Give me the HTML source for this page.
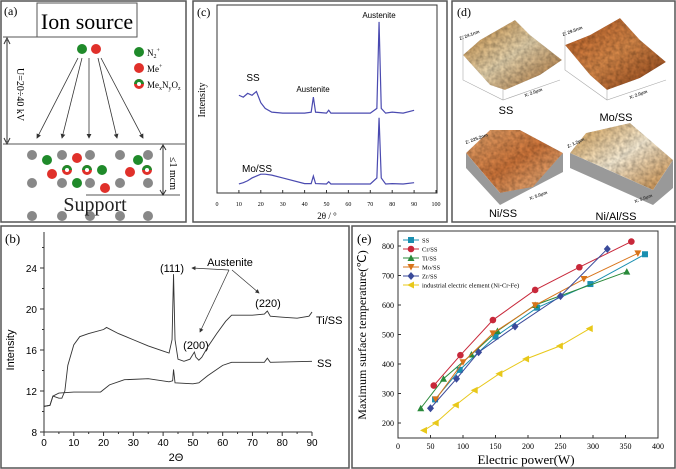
<!DOCTYPE html>
<html><head><meta charset="utf-8"><style>
html,body{margin:0;padding:0;background:#fff;}
svg{display:block;}
.serif{font-family:"Liberation Serif",serif;}
.sans{font-family:"Liberation Sans",sans-serif;}
</style></head>
<body>
<svg id="fig" width="676" height="469" viewBox="0 0 676 469" xmlns="http://www.w3.org/2000/svg">
<defs>
<marker id="arr" markerWidth="6" markerHeight="6" refX="5" refY="3" orient="auto"><path d="M0,0 L6,3 L0,6 z" fill="#333"/></marker>
<linearGradient id="gSS" x1="0" y1="0" x2="1" y2="1"><stop offset="0" stop-color="#c98a3a"/><stop offset="0.5" stop-color="#e8d6b0"/><stop offset="1" stop-color="#a5672a"/></linearGradient>
<linearGradient id="gMo" x1="0" y1="0" x2="1" y2="1"><stop offset="0" stop-color="#b85a22"/><stop offset="0.5" stop-color="#d98a4a"/><stop offset="1" stop-color="#8a3e14"/></linearGradient>
<linearGradient id="gNi" x1="0" y1="0" x2="1" y2="1"><stop offset="0" stop-color="#e8a870"/><stop offset="0.5" stop-color="#d0763a"/><stop offset="1" stop-color="#f0c090"/></linearGradient>
<linearGradient id="gNiAl" x1="0" y1="0" x2="1" y2="1"><stop offset="0" stop-color="#d9a050"/><stop offset="0.5" stop-color="#fbf0d8"/><stop offset="1" stop-color="#c88840"/></linearGradient>
<filter id="rough" x="0" y="0" width="1" height="1">
<feTurbulence type="fractalNoise" baseFrequency="0.25" numOctaves="2" seed="3" result="n"/>
<feColorMatrix in="n" type="matrix" values="0 0 0 0 0.5  0 0 0 0 0.5  0 0 0 0 0.5  1.6 0 0 0 -0.3" result="m"/>
<feBlend in="SourceGraphic" in2="m" mode="multiply" result="b"/>
<feComposite in="b" in2="SourceAlpha" operator="in"/>
</filter>
</defs>

<rect x="1" y="1" width="185" height="221" fill="none" stroke="#555" stroke-width="1.5"/>
<rect x="193" y="1" width="254" height="221" fill="none" stroke="#555" stroke-width="1.5"/>
<rect x="452" y="1" width="223" height="221" fill="none" stroke="#555" stroke-width="1.5"/>
<rect x="1" y="226" width="348" height="242" fill="none" stroke="#555" stroke-width="1.5"/>
<rect x="352" y="226" width="323" height="242" fill="none" stroke="#555" stroke-width="1.5"/>

<g>
<text x="4" y="15" class="serif" font-size="12">(a)</text>
<rect x="37" y="3" width="100" height="34" fill="#fff" stroke="#555"/>
<text x="87" y="29" text-anchor="middle" class="serif" font-size="22">Ion source</text>
<line x1="3" y1="37" x2="37" y2="37" stroke="#555"/>
<line x1="7" y1="40" x2="7" y2="142" stroke="#333"/>
<path d="M4,44 L7,38 L10,44 M4,138 L7,144 L10,138" fill="none" stroke="#333"/>
<text transform="translate(17,68) rotate(90)" class="serif" font-size="10">U=20÷40 kV</text>
<line x1="3" y1="144" x2="185" y2="144" stroke="#555"/>
<line x1="86" y1="195" x2="180" y2="195" stroke="#555"/>
<line x1="163" y1="146" x2="163" y2="194" stroke="#333"/>
<path d="M160,150 L163,145 L166,150 M160,190 L163,195 L166,190" fill="none" stroke="#333"/>
<text transform="translate(170,157) rotate(90)" class="serif" font-size="10">≤1 mcm</text>
<circle cx="82" cy="49" r="5" fill="#1f8a2a"/><circle cx="96" cy="49" r="5" fill="#e0302a"/>
<g stroke="#333" stroke-width="0.8" marker-end="url(#arr)">
<line x1="78" y1="58" x2="37" y2="138"/><line x1="82" y1="58" x2="62" y2="138"/><line x1="89" y1="58" x2="89" y2="138"/><line x1="98" y1="58" x2="117" y2="138"/><line x1="101" y1="58" x2="143" y2="138"/>
</g>
<circle cx="139" cy="52" r="5" fill="#1f8a2a"/><text x="147" y="56" class="serif" font-size="9">N<tspan font-size="6" dy="2">2</tspan><tspan font-size="6" dy="-6">+</tspan></text>
<circle cx="139" cy="68" r="5" fill="#e0302a"/><text x="147" y="72" class="serif" font-size="9">Me<tspan font-size="6" dy="-4">+</tspan></text>
<circle cx="139" cy="84" r="5" fill="#e0302a"/><path d="M134,84 A5,5 0 0,1 144,84 z" fill="#1f8a2a"/><circle cx="139" cy="84" r="2" fill="#fff"/>
<text x="147" y="88" class="serif" font-size="9">Me<tspan font-size="6" dy="2">x</tspan><tspan dy="-2">N</tspan><tspan font-size="6" dy="2">y</tspan><tspan dy="-2">O</tspan><tspan font-size="6" dy="2">z</tspan></text>
<g fill="#888">
<circle cx="32" cy="155" r="5"/><circle cx="62" cy="155" r="5"/><circle cx="90" cy="155" r="5"/><circle cx="120" cy="155" r="5"/><circle cx="148" cy="155" r="5"/>
<circle cx="32" cy="183" r="5"/><circle cx="62" cy="183" r="5"/><circle cx="90" cy="183" r="5"/><circle cx="120" cy="183" r="5"/><circle cx="148" cy="183" r="5"/>
<circle cx="32" cy="216" r="5"/><circle cx="62" cy="216" r="5"/><circle cx="90" cy="216" r="5"/><circle cx="120" cy="216" r="5"/><circle cx="148" cy="216" r="5"/>
</g>
<g fill="#1f8a2a"><circle cx="47" cy="160" r="5"/><circle cx="138" cy="160" r="5"/><circle cx="102" cy="170" r="5"/><circle cx="77" cy="183" r="5"/></g>
<g fill="#e0302a"><circle cx="77" cy="158" r="5"/><circle cx="52" cy="174" r="5"/><circle cx="130" cy="172" r="5"/><circle cx="105" cy="188" r="5"/></g>
<g><circle cx="67" cy="170" r="5" fill="#e0302a"/><path d="M62,170 A5,5 0 0,1 72,170 z" fill="#1f8a2a"/><circle cx="67" cy="170" r="2" fill="#fff"/>
<circle cx="87" cy="170" r="5" fill="#e0302a"/><path d="M82,170 A5,5 0 0,1 92,170 z" fill="#1f8a2a"/><circle cx="87" cy="170" r="2" fill="#fff"/>
<circle cx="147" cy="170" r="5" fill="#e0302a"/><path d="M142,170 A5,5 0 0,1 152,170 z" fill="#1f8a2a"/><circle cx="147" cy="170" r="2" fill="#fff"/></g>
<text x="95" y="211" text-anchor="middle" class="serif" font-size="20" fill="#222">Support</text>
</g>

<g>
<text x="457" y="16" class="serif" font-size="12">(d)</text>
<g stroke="#aaa" stroke-width="0.6" fill="none">
<path d="M463,35 L463,80 L503,100 L560,80 M503,100 L503,60"/>
<path d="M565,30 L565,70 L607,100 L666,80 M607,100 L607,60"/>
</g>
<polygon points="463,55 480,40 515,20 530,35 562,60 540,75 505,90 490,85" fill="url(#gSS)" filter="url(#rough)"/>
<polygon points="565,45 590,35 620,18 640,40 666,62 640,78 607,90 590,75" fill="url(#gMo)" filter="url(#rough)"/>
<polygon points="466,153 466,168 500,205 563,172 563,153 500,193" fill="#999"/>
<polygon points="466,153 490,130 520,130 563,153 533,187 500,193" fill="url(#gNi)" filter="url(#rough)"/>
<polygon points="570,153 570,168 653,205 673,188 673,160 653,190" fill="#999"/>
<polygon points="570,153 586,133 630,123 673,160 653,190" fill="url(#gNiAl)" filter="url(#rough)"/>
<g class="sans" font-size="4.5" font-weight="bold" fill="#333">
<text transform="translate(460,40) rotate(-20)">Z: 24.1nm</text>
<text transform="translate(563,36) rotate(-20)">Z: 29.5nm</text>
<text transform="translate(466,144) rotate(-20)">Z: 225.2nm</text>
<text transform="translate(568,148) rotate(-25)">Z: 1.2μm</text>
<text transform="translate(525,97) rotate(-20)">X: 2.0μm</text>
<text transform="translate(630,99) rotate(-20)">X: 2.0μm</text>
<text transform="translate(530,200) rotate(-20)">X: 5.0μm</text>
<text transform="translate(635,203) rotate(-20)">X: 5.0μm</text>
</g>
<g class="sans" font-size="11" text-anchor="middle">
<text x="506" y="114">SS</text><text x="616" y="121">Mo/SS</text><text x="503" y="217">Ni/SS</text><text x="616" y="220">Ni/Al/SS</text>
</g>
</g>

<g id="pc">
<text x="197" y="16" class="serif" font-size="12">(c)</text>
<rect x="217" y="5" width="220" height="188" fill="none" stroke="#333"/>
<text transform="translate(205,100) rotate(-90)" text-anchor="middle" class="serif" font-size="10">Intensity</text>
<text x="327" y="219" text-anchor="middle" class="serif" font-size="9">2θ / °</text>
<text x="253" y="81" text-anchor="middle" class="sans" font-size="10">SS</text>
<text x="313" y="92" text-anchor="middle" class="sans" font-size="8">Austenite</text>
<text x="379" y="18" text-anchor="middle" class="sans" font-size="8">Austenite</text>
<text x="257" y="172" text-anchor="middle" class="sans" font-size="10">Mo/SS</text>
</g>

<g id="pb">
<text x="5" y="243" class="serif" font-size="13">(b)</text>
<text transform="translate(14,350) rotate(-90)" text-anchor="middle" class="sans" font-size="11">Intensity</text>
<text x="176" y="461" text-anchor="middle" class="sans" font-size="11">2Θ</text>
<text x="172" y="272" text-anchor="middle" class="sans" font-size="11">(111)</text>
<text x="230" y="266" text-anchor="middle" class="sans" font-size="11">Austenite</text>
<text x="196" y="349" text-anchor="middle" class="sans" font-size="11">(200)</text>
<text x="268" y="307" text-anchor="middle" class="sans" font-size="11">(220)</text>
<text x="316" y="324" class="sans" font-size="11">Ti/SS</text>
<text x="317" y="367" class="sans" font-size="11">SS</text>
<g stroke="#333" stroke-width="0.7" marker-end="url(#arr)">
<line x1="229" y1="270" x2="192" y2="268"/><line x1="229" y1="270" x2="200" y2="332"/><line x1="232" y1="270" x2="259" y2="293"/>
</g>
</g>

<g id="pe">
<text x="357" y="243" class="serif" font-size="13">(e)</text>
<rect x="398" y="231" width="260" height="207" fill="none" stroke="#333"/>
<text transform="translate(366,335) rotate(-90)" text-anchor="middle" class="serif" font-size="12">Maximum surface temperature(℃)</text>
<text x="526" y="464" text-anchor="middle" class="serif" font-size="13">Electric power(W)</text>
</g>
</svg>
<script>
var NS="http://www.w3.org/2000/svg";
var bX=[0,2,3,5,6,7,8,10,12,15,20,21,25,30,35,40,42,43,43.5,44,45,47,49,50.5,51,52,53,55,58,61,63,70,74,75,76,80,85,89,90];
var bTi=[10.5,10.6,11.5,11.3,11.3,12,14.5,16.5,17.3,17.6,18.0,18.2,17.6,17,16.4,15.9,15.7,17,23.4,17,15.1,14.9,15.1,15.8,15.3,15,15.3,16.3,17.6,18.8,19.4,19.4,19.5,19.8,19.3,19.2,19.1,19.3,19.7];
var bSSx=[0,2,3,5,10,15,19,22,27,35,42,43.2,43.5,44,50,52,55,60,63,74,75,76,90];
var bSS=[10.5,10.6,11.5,11.8,11.9,11.9,11.9,12.6,13.1,13.2,12.9,13,14.1,12.8,12.7,12.8,13.5,14.5,14.8,14.8,15.2,14.8,14.9];
var bXTicks=[0,10,20,30,40,50,60,70,80,90];
var bYTicks=[8,12,16,20,24];
var cX=[10,12,14,16,18,20,22,25,30,40,43,44,45,50,51,52,60,70,73,74,75,77,80,85,90];
var cSS=[52,51,53,52,54,48,45,43,42.5,42.5,43,51,43,42.5,44,42.5,42.5,42.5,45,91,45,42.5,43,42.5,44];
var cMo=[4.8,5.5,6.5,8,9,10,10,9.5,8,5,5,9,5,4.8,6,4.8,4.8,4.8,8,40,8,4.8,5,4.8,5.5];
var cXTicks=[0,10,20,30,40,50,60,70,80,90,100];
var eSeriesNames=["SS","Cr/SS","Ti/SS","Mo/SS","Zr/SS","industrial electric element (Ni-Cr-Fe)"];
var eSSx=[57,95,150,214,296,380], eSSy=[280,380,493,591,671,772];
var eCrx=[55,96,146,211,279,359], eCry=[327,430,549,651,728,815];
var eTix=[35,70,113,153,211,352], eTiy=[250,350,432,512,600,713];
var eMox=[58,100,146,211,286,369], eMoy=[280,406,504,599,688,775];
var eZrx=[50,90,124,180,250,322], eZry=[250,350,440,527,630,790];
var eInx=[40,58,89,118,156,197,249,295], eIny=[175,200,261,311,367,417,461,520];
var eXTicks=[0,50,100,150,200,250,300,350,400];
var eYTicks=[200,300,400,500,600,700,800];

function mk(tag,attrs,parent){var e=document.createElementNS(NS,tag);for(var k in attrs)e.setAttribute(k,attrs[k]);parent.appendChild(e);return e;}

(function(){
var g=document.getElementById('pb');
function sx(v){return 44+v*(312-44)/90;}
function sy(v){return 432-(v-8)*(164/16);}
mk('path',{d:'M44,232 L44,432 L312,432',fill:'none',stroke:'#333'},g);
bXTicks.forEach(function(t){mk('line',{x1:sx(t),y1:432,x2:sx(t),y2:436,stroke:'#333'},g);
var tx=mk('text',{x:sx(t),y:446,'text-anchor':'middle','font-size':'10','class':'sans'},g);tx.textContent=t;
if(t<90)mk('line',{x1:sx(t+5),y1:432,x2:sx(t+5),y2:434,stroke:'#333'},g);});
bYTicks.forEach(function(t){mk('line',{x1:40,y1:sy(t),x2:44,y2:sy(t),stroke:'#333'},g);
var tx=mk('text',{x:37,y:sy(t)+4,'text-anchor':'end','font-size':'10','class':'sans'},g);tx.textContent=t;
mk('line',{x1:42,y1:sy(t+2),x2:44,y2:sy(t+2),stroke:'#333'},g);});
mk('line',{x1:42,y1:sy(26),x2:44,y2:sy(26),stroke:'#333'},g);
var p1=mk('polyline',{points:bX.map(function(x,i){return sx(x)+','+sy(bTi[i]);}).join(' '),fill:'none',stroke:'#333','stroke-width':'0.9'},g);


var p2=mk('polyline',{points:bSSx.map(function(x,i){return sx(x)+','+sy(bSS[i]);}).join(' '),fill:'none',stroke:'#333','stroke-width':'0.9'},g);


})();

(function(){
var g=document.getElementById('pc');
function sx(v){return 217+v*2.19;}
function sy(v){return 193-v*1.88;}
cXTicks.forEach(function(t){mk('line',{x1:sx(t),y1:193,x2:sx(t),y2:190,stroke:'#333'},g);
var tx=mk('text',{x:sx(t),y:206,'text-anchor':'middle','font-size':'6','class':'serif'},g);tx.textContent=t;});
var p1=mk('polyline',{points:cX.map(function(x,i){return sx(x)+','+sy(cSS[i]);}).join(' '),fill:'none',stroke:'#4a4ab0','stroke-width':'1.2'},g);


var p2=mk('polyline',{points:cX.map(function(x,i){return sx(x)+','+sy(cMo[i]);}).join(' '),fill:'none',stroke:'#4a4ab0','stroke-width':'1.2'},g);


})();

(function(){
var g=document.getElementById('pe');
function sx(v){return 398+v*0.65;}
function sy(v){return 423-(v-200)*(177/600);}
eXTicks.forEach(function(t){mk('line',{x1:sx(t),y1:438,x2:sx(t),y2:435,stroke:'#333'},g);
var tx=mk('text',{x:sx(t),y:449,'text-anchor':'middle','font-size':'8','class':'serif'},g);tx.textContent=t;});
eYTicks.forEach(function(t){mk('line',{x1:398,y1:sy(t),x2:401,y2:sy(t),stroke:'#333'},g);
var tx=mk('text',{x:394,y:sy(t)+3,'text-anchor':'end','font-size':'8','class':'serif'},g);tx.textContent=t;});
var series=[[eSSx,eSSy,'#1a8fb0','sq'],[eCrx,eCry,'#c8283a','ci'],[eTix,eTiy,'#2a8a3a','tu'],[eMox,eMoy,'#d8741a','td'],[eZrx,eZry,'#3a4a9a','di'],[eInx,eIny,'#e8c81a','tl']];
function marker(t,x,y,c,par){
if(t=='sq')return mk('rect',{x:x-3,y:y-3,width:6,height:6,fill:c},par);
if(t=='ci')return mk('circle',{cx:x,cy:y,r:3.3,fill:c},par);
if(t=='tu')return mk('polygon',{points:(x-3.5)+','+(y+3)+' '+(x+3.5)+','+(y+3)+' '+x+','+(y-3.5),fill:c},par);
if(t=='td')return mk('polygon',{points:(x-3.5)+','+(y-3)+' '+(x+3.5)+','+(y-3)+' '+x+','+(y+3.5),fill:c},par);
if(t=='di')return mk('polygon',{points:x+','+(y-4)+' '+(x+3.5)+','+y+' '+x+','+(y+4)+' '+(x-3.5)+','+y,fill:c},par);
return mk('polygon',{points:(x-4)+','+y+' '+(x+3)+','+(y-3.5)+' '+(x+3)+','+(y+3.5),fill:c},par);}
series.forEach(function(s,k){
var sg=mk('g',{},g);


mk('polyline',{points:s[0].map(function(x,i){return sx(x)+','+sy(s[1][i]);}).join(' '),fill:'none',stroke:s[2],'stroke-width':'1'},sg);
s[0].forEach(function(x,i){marker(s[3],sx(x),sy(s[1][i]),s[2],sg);});
var ly=240+k*9;
var lg=mk('g',{},g);


mk('line',{x1:403,y1:ly,x2:419,y2:ly,stroke:s[2],'stroke-width':'1'},lg);
marker(s[3],411,ly,s[2],lg);
var tx=mk('text',{x:422,y:ly+2.5,'font-size':'6.5','class':'serif'},lg);tx.textContent=eSeriesNames[k];
});
})();
</script>
</body></html>
